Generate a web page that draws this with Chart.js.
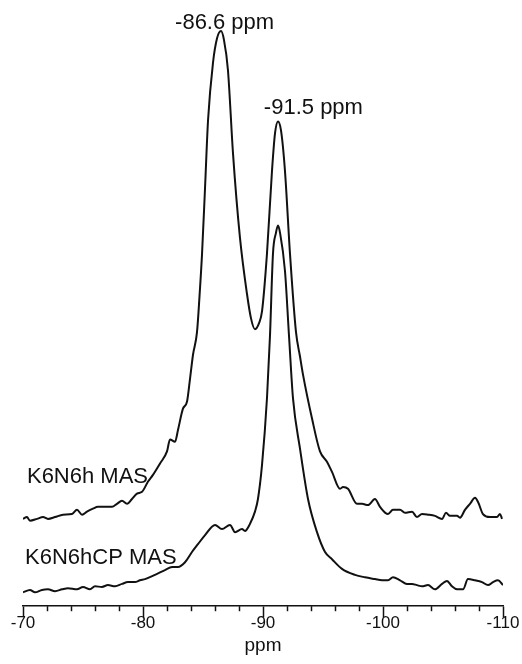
<!DOCTYPE html>
<html>
<head>
<meta charset="utf-8">
<script src="https://cdn.jsdelivr.net/npm/chart.js@4/dist/chart.umd.min.js"></script>
<style>
  html, body { margin: 0; padding: 0; background: #fff; }
  #wrap { width: 522px; height: 664px; }
</style>
</head>
<body>
<div id="wrap"><canvas id="nmr"></canvas></div>
<script>
// chemical shift axis
const tickValues = [-70, -80, -90, -100, -110];
const axisTitle = "ppm";
const peakLabels = ["-86.6 ppm", "-91.5 ppm"];
const seriesNames = ["K6N6h MAS", "K6N6hCP MAS"];

// K6N6h MAS (upper trace, plotted with its offset)
const upperPpm = [-70.00, -70.33, -70.58, -71.17, -71.67, -72.08, -72.67, -73.33, -74.08, -74.50,
  -74.92, -75.33, -75.83, -76.25, -76.83, -77.42, -77.83, -78.25, -78.67, -79.08,
  -79.50, -79.92, -80.42, -80.83, -81.42, -82.00, -82.25, -82.67, -82.92, -83.33,
  -83.67, -83.92, -84.17, -84.50, -84.71, -84.92, -85.17, -85.42, -85.83, -86.17, -86.50,
  -86.75, -87.08, -87.50, -88.08, -88.67, -89.00, -89.33, -89.67, -89.92, -90.33,
  -90.75, -91.00, -91.25, -91.50, -91.83, -92.25, -92.75, -93.08, -93.33, -94.08, -94.75,
  -95.33, -95.75, -96.42, -96.67, -97.08, -97.83, -98.25, -98.75, -99.33, -99.75,
  -100.42, -100.83, -101.42, -101.83, -102.42, -102.83, -103.25, -103.75, -104.33, -104.92,
  -105.25, -105.58, -106.17, -106.42, -106.83, -107.25, -107.67, -107.92, -108.33, -108.92,
  -109.50, -109.75, -109.92];
const upperInt = [14.5, 14.8, 14.2, 14.5, 14.8, 14.5, 14.8, 15.2, 15.3, 16.0,
  15.2, 15.7, 16.2, 16.5, 16.5, 16.5, 17.0, 17.5, 17.0, 17.8,
  18.7, 19.0, 20.7, 21.8, 23.7, 25.7, 27.7, 27.3, 29.3, 32.8,
  34.0, 37.8, 41.8, 45.5, 51.5, 58.5, 69.5, 80.7, 90.2, 94.3, 95.5,
  94.0, 89.0, 75.2, 61.2, 51.8, 47.8, 46.0, 47.0, 49.0, 58.5,
  72.3, 78.5, 80.5, 79.0, 72.3, 58.5, 45.5, 41.5, 38.5, 31.2, 25.7,
  24.0, 22.3, 19.5, 19.8, 19.5, 17.0, 17.0, 16.8, 17.8, 16.5,
  15.3, 16.0, 16.0, 15.5, 15.7, 14.8, 15.3, 15.2, 15.0, 14.5,
  15.5, 15.0, 15.0, 14.7, 16.0, 17.0, 18.0, 17.3, 15.3, 14.8,
  14.8, 15.3, 14.5];

// K6N6hCP MAS (lower trace)
const lowerPpm = [-70.00, -70.58, -71.00, -71.58, -72.08, -72.67, -73.25, -73.75, -74.50, -75.00,
  -75.58, -76.00, -76.58, -77.08, -77.67, -78.25, -78.75, -79.33, -79.75, -80.17,
  -81.00, -81.83, -82.42, -82.92, -83.50, -84.08, -84.58, -85.17, -86.00, -86.58,
  -87.25, -87.67, -88.25, -88.50, -88.92, -89.33, -89.58, -89.92, -90.33, -90.58,
  -90.83, -91.08, -91.25, -91.42, -91.83, -92.17, -92.50, -93.08, -93.75, -94.50,
  -95.17, -95.75, -96.58, -97.67, -98.50, -99.33, -99.92, -100.42, -100.83, -101.42,
  -102.00, -102.42, -102.83, -103.25, -103.75, -104.33, -104.92, -105.33, -105.75, -106.17,
  -106.67, -107.08, -107.67, -108.25, -108.75, -109.17, -109.58, -110.00];
const lowerInt = [2.3, 2.7, 2.3, 2.7, 2.8, 2.5, 2.8, 3.0, 2.8, 3.2,
  2.8, 3.3, 3.2, 3.5, 3.3, 3.7, 4.0, 4.0, 4.3, 4.5,
  5.2, 6.0, 6.5, 6.5, 7.3, 9.0, 10.3, 11.8, 13.5, 12.8,
  13.5, 12.3, 12.8, 12.5, 13.7, 15.7, 17.8, 23.5, 34.5, 44.8,
  58.5, 62.0, 63.2, 62.0, 55.7, 44.8, 34.5, 26.2, 17.8, 12.3,
  9.0, 7.8, 6.2, 5.2, 4.8, 4.5, 4.3, 4.3, 4.8, 4.3,
  3.7, 3.7, 3.5, 3.3, 3.5, 2.8, 3.7, 4.2, 3.3, 2.8,
  2.8, 4.5, 4.3, 4.0, 3.5, 4.0, 4.3, 3.5];

const toPoints = (xs, ys) => xs.map((x, i) => ({ x: x, y: ys[i] }));

// where the text labels sit, in axis units
const notes = [
  { text: peakLabels[0], x: -86.8, y: 96.9, align: "center" },
  { text: peakLabels[1], x: -94.2, y: 82.7, align: "center" },
  { text: seriesNames[0], x: -70.33, y: 21.5, align: "left" },
  { text: seriesNames[1], x: -70.17, y: 8.0, align: "left" }
];

const textPlugin = {
  id: "notes",
  afterDraw(chart) {
    const ctx = chart.ctx;
    const xs = chart.scales.x;
    const ys = chart.scales.y;
    ctx.save();
    ctx.fillStyle = "#111";
    ctx.font = "22px 'Liberation Sans', Arial, sans-serif";
    ctx.textBaseline = "middle";
    notes.forEach(n => {
      ctx.textAlign = n.align;
      ctx.fillText(n.text, xs.getPixelForValue(n.x), ys.getPixelForValue(n.y));
    });

    // minor ticks every 2 ppm
    ctx.strokeStyle = "#111";
    ctx.lineWidth = 1.5;
    for (let v = -72; v > -110; v -= 2) {
      if (v % 10 === 0) continue;
      const px = Math.round(xs.getPixelForValue(v)) + 0.5;
      ctx.beginPath();
      ctx.moveTo(px, xs.top);
      ctx.lineTo(px, xs.top + 5);
      ctx.stroke();
    }
    ctx.restore();
  }
};

const lineStyle = {
  borderColor: "#111",
  borderWidth: 2,
  pointRadius: 0,
  fill: false,
  cubicInterpolationMode: "monotone"
};

new Chart(document.getElementById("nmr"), {
  type: "line",
  data: {
    datasets: [
      Object.assign({ label: seriesNames[0], data: toPoints(upperPpm, upperInt) }, lineStyle),
      Object.assign({ label: seriesNames[1], data: toPoints(lowerPpm, lowerInt) }, lineStyle)
    ]
  },
  options: {
    responsive: true,
    maintainAspectRatio: false,
    animation: false,
    layout: { padding: { left: 23, right: 19, top: 4, bottom: 7 } },
    plugins: {
      legend: { display: false },
      tooltip: { enabled: false }
    },
    scales: {
      x: {
        type: "linear",
        reverse: true,
        min: -110,
        max: -70,
        afterBuildTicks: scale => {
          scale.ticks = tickValues.map(v => ({ value: v }));
        },
        ticks: {
          color: "#111",
          padding: -2,
          maxRotation: 0,
          autoSkip: false,
          font: { family: "'Liberation Sans', Arial, sans-serif", size: 17, lineHeight: 1 }
        },
        grid: {
          drawOnChartArea: false,
          drawTicks: true,
          tickLength: 11,
          tickColor: "#111",
          tickWidth: 1.5
        },
        border: { display: true, color: "#111", width: 1.5 },
        title: {
          display: true,
          text: axisTitle,
          color: "#111",
          padding: { top: 4, bottom: 0 },
          font: { family: "'Liberation Sans', Arial, sans-serif", size: 19 }
        }
      },
      y: {
        display: false,
        min: 0,
        max: 100
      }
    }
  },
  plugins: [textPlugin]
});
</script>
</body>
</html>
